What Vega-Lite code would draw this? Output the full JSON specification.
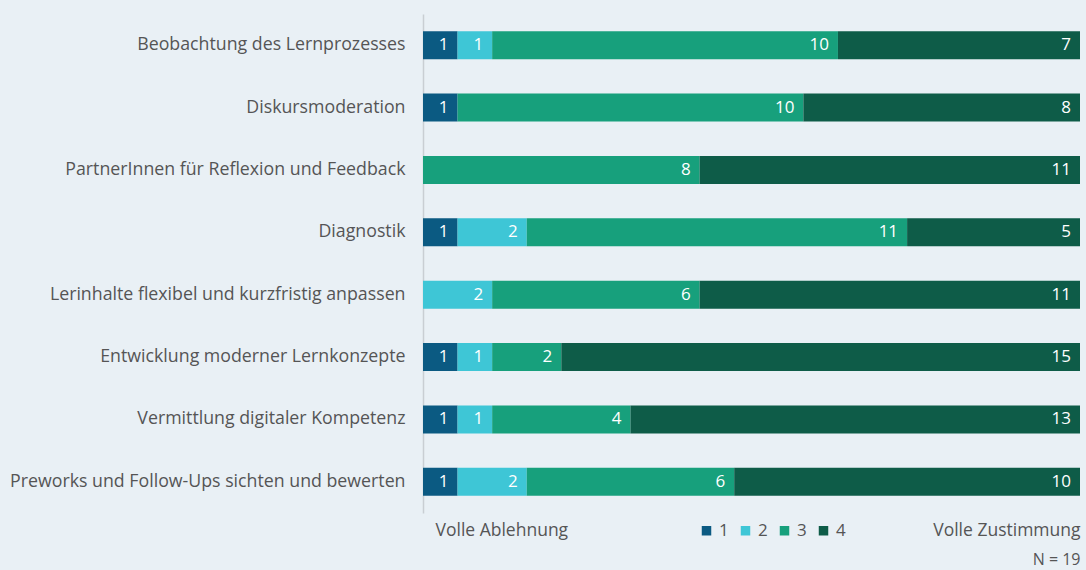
{
  "$schema": "https://vega.github.io/schema/vega-lite/v6.json",
  "autosize": {"type": "none"},
  "width": 657,
  "height": 499,
  "padding": {"left": 423, "top": 14, "right": 6, "bottom": 57},
  "background": "#e9f0f5",
  "config": {
    "view": {"stroke": null},
    "font": "Open Sans",
    "text": {"font": "Open Sans"}
  },
  "data": {
    "values": [
      {"item": "Beobachtung des Lernprozesses", "level": 1, "n": 1},
      {"item": "Beobachtung des Lernprozesses", "level": 2, "n": 1},
      {"item": "Beobachtung des Lernprozesses", "level": 3, "n": 10},
      {"item": "Beobachtung des Lernprozesses", "level": 4, "n": 7},
      {"item": "Diskursmoderation", "level": 1, "n": 1},
      {"item": "Diskursmoderation", "level": 3, "n": 10},
      {"item": "Diskursmoderation", "level": 4, "n": 8},
      {"item": "PartnerInnen für Reflexion und Feedback", "level": 3, "n": 8},
      {"item": "PartnerInnen für Reflexion und Feedback", "level": 4, "n": 11},
      {"item": "Diagnostik", "level": 1, "n": 1},
      {"item": "Diagnostik", "level": 2, "n": 2},
      {"item": "Diagnostik", "level": 3, "n": 11},
      {"item": "Diagnostik", "level": 4, "n": 5},
      {"item": "Lerinhalte flexibel und kurzfristig anpassen", "level": 2, "n": 2},
      {"item": "Lerinhalte flexibel und kurzfristig anpassen", "level": 3, "n": 6},
      {"item": "Lerinhalte flexibel und kurzfristig anpassen", "level": 4, "n": 11},
      {"item": "Entwicklung moderner Lernkonzepte", "level": 1, "n": 1},
      {"item": "Entwicklung moderner Lernkonzepte", "level": 2, "n": 1},
      {"item": "Entwicklung moderner Lernkonzepte", "level": 3, "n": 2},
      {"item": "Entwicklung moderner Lernkonzepte", "level": 4, "n": 15},
      {"item": "Vermittlung digitaler Kompetenz", "level": 1, "n": 1},
      {"item": "Vermittlung digitaler Kompetenz", "level": 2, "n": 1},
      {"item": "Vermittlung digitaler Kompetenz", "level": 3, "n": 4},
      {"item": "Vermittlung digitaler Kompetenz", "level": 4, "n": 13},
      {"item": "Preworks und Follow-Ups sichten und bewerten", "level": 1, "n": 1},
      {"item": "Preworks und Follow-Ups sichten und bewerten", "level": 2, "n": 2},
      {"item": "Preworks und Follow-Ups sichten und bewerten", "level": 3, "n": 6},
      {"item": "Preworks und Follow-Ups sichten und bewerten", "level": 4, "n": 10}
    ]
  },
  "transform": [
    {"stack": "n", "groupby": ["item"], "sort": [{"field": "level", "order": "ascending"}], "as": ["v0", "v1"]}
  ],
  "encoding": {
    "y": {
      "field": "item",
      "type": "nominal",
      "sort": null,
      "scale": {"paddingInner": 0.55, "paddingOuter": 0.275},
      "axis": {
        "title": null,
        "ticks": false,
        "domainColor": "#c9ced3",
        "domainWidth": 1.5,
        "labelFontSize": 17.75,
        "labelColor": "#555555",
        "labelPadding": 18,
        "labelLimit": 420
      }
    }
  },
  "layer": [
    {
      "mark": {"type": "bar"},
      "encoding": {
        "x": {
          "field": "v0",
          "type": "quantitative",
          "scale": {"domain": [0, 19], "nice": false, "zero": true},
          "axis": {
            "values": [0, 19],
            "grid": false,
            "domain": false,
            "ticks": false,
            "labelExpr": "datum.value == 0 ? 'Volle Ablehnung' : 'Volle Zustimmung'",
            "labelAlign": {"condition": {"test": "datum.value == 0", "value": "left"}, "value": "right"},
            "labelOffset": {"condition": {"test": "datum.value == 0", "value": 12}, "value": 0},
            "labelFontSize": 17.5,
            "labelColor": "#555555",
            "labelPadding": 8,
            "labelFlush": false,
            "labelOverlap": false,
            "title": "N = 19",
            "titleAnchor": "end",
            "titleAlign": "right",
            "titleFontWeight": "normal",
            "titleFontSize": 16,
            "titleColor": "#555555",
            "titlePadding": 13
          }
        },
        "x2": {"field": "v1"},
        "color": {
          "field": "level",
          "type": "ordinal",
          "scale": {"domain": [1, 2, 3, 4], "range": ["#0b5a82", "#3ec6d6", "#17a07c", "#0e5c48"]},
          "legend": {
            "title": null,
            "orient": "none",
            "direction": "horizontal",
            "legendX": 275,
            "legendY": 508,
            "symbolType": "square",
            "symbolSize": 90,
            "symbolStrokeWidth": 0,
            "symbolOpacity": 1,
            "labelFontSize": 17,
            "labelColor": "#555555",
            "labelOffset": 4,
            "columnPadding": 8
          }
        }
      }
    },
    {
      "mark": {"type": "text", "align": "right", "baseline": "middle", "dx": -9, "fontSize": 17, "color": "white"},
      "encoding": {
        "x": {"field": "v1", "type": "quantitative"},
        "text": {"field": "n", "type": "quantitative"}
      }
    }
  ]
}
